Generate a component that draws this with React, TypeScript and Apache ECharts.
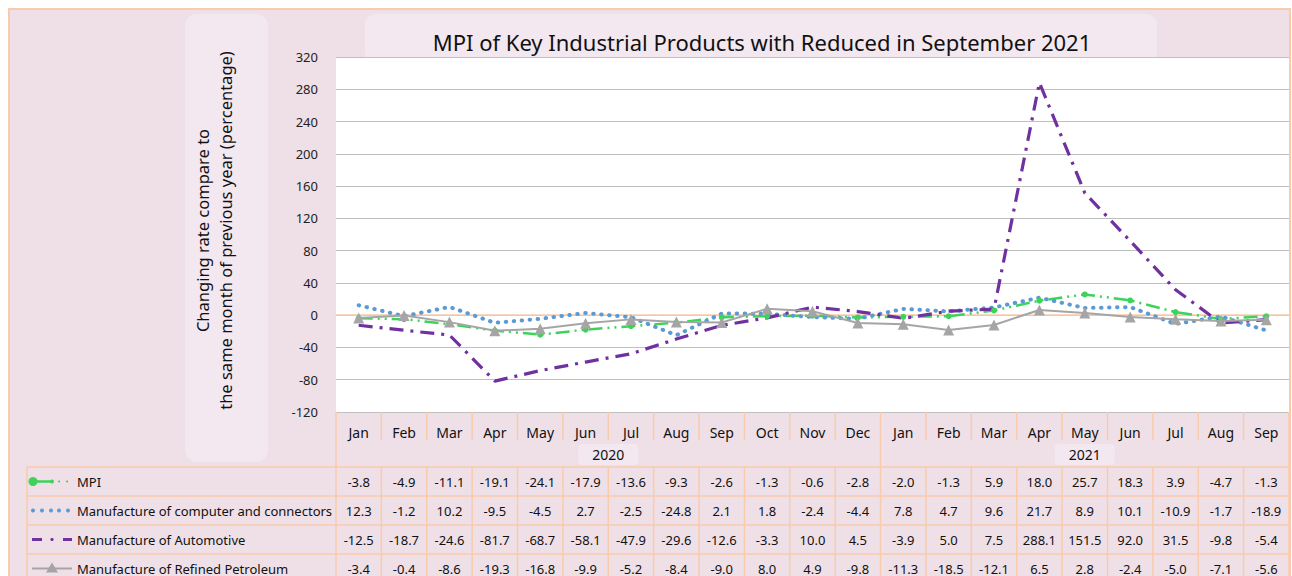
import React, { useEffect, useRef } from "react";
import * as echarts from "echarts";

const TITLE = "MPI of Key Industrial Products with Reduced in September 2021";
const Y_NAME = "Changing rate compare to\nthe same month of previous year (percentage)";

const months = ["Jan", "Feb", "Mar", "Apr", "May", "Jun", "Jul", "Aug", "Sep", "Oct", "Nov", "Dec",
  "Jan", "Feb", "Mar", "Apr", "May", "Jun", "Jul", "Aug", "Sep"];
const yearLabels = ["2020", "2021"];
const yearSpans = [12, 9];

const seriesNames = [
  "MPI",
  "Manufacture of computer and connectors",
  "Manufacture of Automotive",
  "Manufacture of Refined Petroleum",
];

const mpi = [-3.8, -4.9, -11.1, -19.1, -24.1, -17.9, -13.6, -9.3, -2.6, -1.3, -0.6, -2.8,
  -2.0, -1.3, 5.9, 18.0, 25.7, 18.3, 3.9, -4.7, -1.3];
const computer = [12.3, -1.2, 10.2, -9.5, -4.5, 2.7, -2.5, -24.8, 2.1, 1.8, -2.4, -4.4,
  7.8, 4.7, 9.6, 21.7, 8.9, 10.1, -10.9, -1.7, -18.9];
const automotive = [-12.5, -18.7, -24.6, -81.7, -68.7, -58.1, -47.9, -29.6, -12.6, -3.3, 10.0, 4.5,
  -3.9, 5.0, 7.5, 288.1, 151.5, 92.0, 31.5, -9.8, -5.4];
const petroleum = [-3.4, -0.4, -8.6, -19.3, -16.8, -9.9, -5.2, -8.4, -9.0, 8.0, 4.9, -9.8,
  -11.3, -18.5, -12.1, 6.5, 2.8, -2.4, -5.0, -7.1, -5.6];

const yMin = -120;
const yMax = 320;
const yStep = 40;

const FONT = "'Noto Sans', 'DejaVu Sans', sans-serif";
const ORANGE = "#F8CBAD";
const BG = "#EFE0E8";
const LIGHT = "#F3E7F0";
const TEXT = "#111111";
const COLORS = ["#3DD35B", "#5B9BD5", "#7030A0", "#A5A5A5"];

export default function App() {
  const ref = useRef<HTMLDivElement>(null);

  useEffect(() => {
    document.body.style.margin = "0";
    const chart = echarts.init(ref.current!, null, { renderer: "svg" });
    const allData = [mpi, computer, automotive, petroleum];

    const series: any[] = [
      {
        name: seriesNames[0], type: "line", data: mpi, color: COLORS[0],
        lineStyle: { width: 2.5, type: [14, 5, 2, 5, 2, 5], color: COLORS[0] },
        symbol: "circle", symbolSize: 6, showSymbol: true,
        itemStyle: { color: COLORS[0] },
      },
      {
        name: seriesNames[1], type: "line", data: computer, color: COLORS[1],
        lineStyle: { width: 4, type: [0.5, 7.5], cap: "round", color: COLORS[1] },
        showSymbol: false,
      },
      {
        name: seriesNames[2], type: "line", data: automotive, color: COLORS[2],
        lineStyle: { width: 3.2, type: [14, 7, 3, 7], color: COLORS[2] },
        showSymbol: false,
      },
      {
        name: seriesNames[3], type: "line", data: petroleum, color: COLORS[3],
        lineStyle: { width: 2, color: COLORS[3] },
        symbol: "triangle", symbolSize: 11, showSymbol: true,
        itemStyle: { color: COLORS[3] },
      },
    ];

    chart.setOption({
      animation: false,
      textStyle: { fontFamily: FONT },
      title: {
        text: TITLE, left: 757, top: 26, textAlign: "center",
        textStyle: { fontSize: 22, fontWeight: "normal", color: TEXT, fontFamily: FONT },
      },
      grid: {
        left: 336, right: 3, top: 57, bottom: 164,
        show: true, backgroundColor: "#ffffff", borderWidth: 0,
      },
      xAxis: {
        type: "category", data: months, boundaryGap: true,
        axisLine: { show: true, lineStyle: { color: ORANGE, width: 1.5 } },
        axisTick: { show: false },
        axisLabel: { fontSize: 14, color: TEXT, margin: 13, interval: 0, fontFamily: FONT },
      },
      yAxis: {
        type: "value", min: yMin, max: yMax, interval: yStep,
        name: Y_NAME, nameLocation: "middle", nameGap: 99,
        nameTextStyle: { fontSize: 16.5, lineHeight: 23, color: TEXT, fontFamily: FONT, padding: [0, 0, 0, 8] },
        axisLine: { show: false }, axisTick: { show: false },
        axisLabel: { fontSize: 13, color: "#222", margin: 18, fontFamily: FONT },
        splitLine: { lineStyle: { color: "#BFBFBF", width: 1.2 } },
      },
      series,
    });

    const xs = months.map((_, i) => chart.convertToPixel({ xAxisIndex: 0 }, i) as number);
    const colW = xs[1] - xs[0];
    const bounds = months.map((_, k) => xs[0] - colW / 2 + k * colW);
    bounds.push(xs[xs.length - 1] + colW / 2);
    const plotBottom = chart.convertToPixel({ yAxisIndex: 0 }, yMin) as number;

    const monthRowBottom = plotBottom + 28;
    const yearRowBottom = plotBottom + 55;
    const rowH = 29;
    const tableLeft = 27;
    const tableBottom = 600;

    const g: any[] = [];
    const line = (x1: number, y1: number, x2: number, y2: number, color = ORANGE, w = 1.5, z = 5) =>
      g.push({ type: "line", z, shape: { x1, y1, x2, y2 }, style: { stroke: color, lineWidth: w } });
    const text = (t: string, x: number, y: number, align: string, size = 13) =>
      g.push({
        type: "text", z: 6,
        style: {
          text: t, x, y, fill: TEXT, fontSize: size, fontFamily: FONT,
          align, verticalAlign: "middle", textAlign: align, textVerticalAlign: "middle",
        },
      });

    // backgrounds
    g.push({ type: "rect", z: -100, shape: { x: 9, y: 9, width: 1281, height: 600 },
      style: { fill: BG, stroke: ORANGE, lineWidth: 2 } });
    g.push({ type: "rect", z: -90, shape: { x: 185, y: 14, width: 83, height: 448, r: 12 },
      style: { fill: LIGHT } });
    g.push({ type: "rect", z: -90, shape: { x: 365, y: 14, width: 792, height: 50, r: 10 },
      style: { fill: LIGHT } });

    // month row separators
    bounds.forEach((b) => line(b, plotBottom, b, monthRowBottom));
    // year row separators
    let acc = 0;
    const yearBounds = [0];
    yearSpans.forEach((s) => { acc += s; yearBounds.push(acc); });
    yearBounds.forEach((k) => line(bounds[k], monthRowBottom, bounds[k], yearRowBottom));
    // year labels
    yearLabels.forEach((lab, j) => {
      const cx = (bounds[yearBounds[j]] + bounds[yearBounds[j + 1]]) / 2;
      g.push({ type: "rect", z: 4, shape: { x: cx - 30, y: yearRowBottom - 23, width: 60, height: 21, r: 4 },
        style: { fill: LIGHT } });
      text(lab, cx, yearRowBottom - 13, "center", 14);
    });

    // data rows
    const rowTops = allData.map((_, r) => yearRowBottom + r * rowH);
    rowTops.forEach((top) => line(tableLeft, top, bounds[bounds.length - 1], top));
    line(tableLeft, yearRowBottom, tableLeft, tableBottom);
    bounds.forEach((b) => line(b, yearRowBottom, b, tableBottom));

    allData.forEach((arr, r) => {
      const cy = rowTops[r] + rowH / 2;
      arr.forEach((v, i) => text(v.toFixed(1), xs[i], cy, "center", 13));
      text(seriesNames[r], 77, cy, "left", 13);
    });

    // legend keys
    const ky = (r: number) => rowTops[r] + rowH / 2;
    // MPI
    line(33, ky(0), 52, ky(0), COLORS[0], 2.5, 7);
    g.push({ type: "circle", z: 8, shape: { cx: 33, cy: ky(0), r: 4.5 }, style: { fill: COLORS[0] } });
    g.push({ type: "circle", z: 8, shape: { cx: 52, cy: ky(0), r: 2 }, style: { fill: COLORS[0] } });
    g.push({ type: "circle", z: 8, shape: { cx: 59, cy: ky(0), r: 1 }, style: { fill: COLORS[0] } });
    g.push({ type: "circle", z: 8, shape: { cx: 67, cy: ky(0), r: 1 }, style: { fill: COLORS[0] } });
    // computer
    [33, 42, 51, 59, 68].forEach((x) =>
      g.push({ type: "circle", z: 8, shape: { cx: x, cy: ky(1), r: 2 }, style: { fill: COLORS[1] } }));
    // automotive
    line(32, ky(2), 42, ky(2), COLORS[2], 3, 7);
    g.push({ type: "circle", z: 8, shape: { cx: 52, cy: ky(2), r: 1.6 }, style: { fill: COLORS[2] } });
    line(63, ky(2), 72, ky(2), COLORS[2], 3, 7);
    // petroleum
    line(32, ky(3), 72, ky(3), COLORS[3], 2, 7);
    g.push({ type: "polygon", z: 8, shape: { points: [[52, ky(3) - 6], [46, ky(3) + 4], [58, ky(3) + 4]] },
      style: { fill: COLORS[3] } });

    chart.setOption({ graphic: { elements: g } });

    return () => chart.dispose();
  }, []);

  return <div ref={ref} style={{ width: 1292, height: 576, background: "#ffffff" }} />;
}
